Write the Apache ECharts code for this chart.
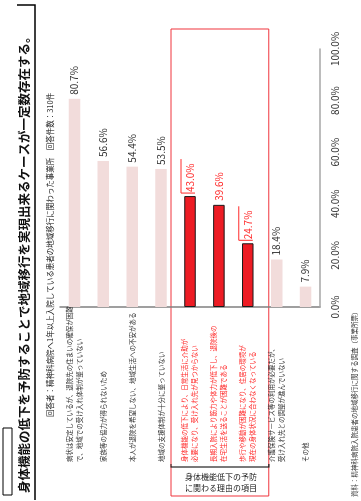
<!DOCTYPE html>
<html>
<head>
<meta charset="utf-8">
<script src="https://cdn.jsdelivr.net/npm/echarts@6/dist/echarts.min.js"></script>
<style>
html,body{margin:0;padding:0;background:#fff;width:361px;height:501px;overflow:hidden;}
#wrap{position:absolute;left:0;top:0;width:501px;height:361px;transform-origin:0 0;transform:translate(0,501px) rotate(-90deg);}
#chart{width:501px;height:361px;}
</style>
</head>
<body>
<div id="wrap"><div id="chart"></div></div>
<script>
const titleText = '身体機能の低下を予防することで地域移行を実現出来るケースが一定数存在する。';
const subtitleText = '回答者：精神科病院へ1年以上入院している患者の地域移行に関わった事業所　回答件数：310件';
const groupLabel = '身体機能低下の予防\nに関わる理由の項目';
const sourceText = '資料：精神科病院入院患者の地域移行に関する調査（事業所票）';
const categories = [
  '病状は安定しているが、退院先の住まいの確保が困難\nで、地域での受け入れ体制が整っていない',
  '家族等の協力が得られないため',
  '本人が退院を希望しない、地域生活への不安がある',
  '地域の支援体制が十分に整っていない',
  '身体機能の低下により、日常生活に介助が\n必要になり、受け入れ先が見つからない',
  '長期入院により筋力や体力が低下し、退院後の\n在宅生活を送ることが困難である',
  '歩行や移動が困難になり、住居の環境が\n現在の身体状況に合わなくなっている',
  '介護保険サービス等の利用が必要だが、\n受け入れ先との調整が進んでいない',
  'その他'
];
const values = [80.7, 56.6, 54.4, 53.5, 43.0, 39.6, 24.7, 18.4, 7.9];
const highlighted = [false, false, false, false, true, true, true, false, false];
const framedLabels = [4, 6];

const FONT = "'Noto Sans CJK JP', 'Noto Sans', sans-serif";
const PINK = '#F2DCDB';
const RED = '#ED1C24';
const RED_TEXT = '#FF2A2A';

const chart = echarts.init(document.getElementById('chart'), null, {renderer: 'canvas'});

const catLabelStyle = {align: 'left', fontSize: 6.5, lineHeight: 10, fontFamily: FONT};

const option = {
  animation: false,
  textStyle: {fontFamily: FONT},
  grid: {left: 194, right: 49, top: 60, bottom: 41, containLabel: false, outerBoundsMode: 'none'},
  xAxis: {
    type: 'value', min: 0, max: 100, interval: 20,
    axisLine: {show: true, lineStyle: {color: '#A6A6A6', width: 1.5}},
    axisTick: {show: false},
    splitLine: {show: false},
    axisLabel: {fontSize: 10, color: '#333', margin: 10, fontFamily: FONT,
      formatter: v => v.toFixed(1) + '%'}
  },
  yAxis: {
    type: 'category', inverse: true,
    data: categories.map((c, i) => ({
      value: c,
      textStyle: Object.assign({color: highlighted[i] ? RED_TEXT : '#333'}, catLabelStyle)
    })),
    axisLine: {show: true, lineStyle: {color: '#7F7F7F', width: 1.5}},
    axisTick: {show: false},
    axisLabel: Object.assign({interval: 0, margin: 155, color: '#333'}, catLabelStyle)
  },
  series: [{
    type: 'bar',
    barWidth: 11.5,
    data: values.map((v, i) => highlighted[i] ? {
      value: v,
      itemStyle: {color: RED, borderColor: '#1a1a1a', borderWidth: 1},
      label: {color: RED_TEXT}
    } : {value: v, itemStyle: {color: PINK}}),
    label: {show: true, position: 'right', distance: 4, fontSize: 10, color: '#333',
      fontFamily: FONT, formatter: p => p.value.toFixed(1) + '%'}
  }]
};
chart.setOption(option);

// annotations derived from the chart's own scales
const p = (v, i) => chart.convertToPixel({gridIndex: 0}, [v, i]);
const first = highlighted.indexOf(true);
const last = highlighted.lastIndexOf(true);
const bandTop = p(0, first)[1] - 19;
const bandBottom = p(0, last)[1] + 21;

const graphics = [
  {type: 'rect', shape: {x: 6, y: 3, width: 67, height: 9}, style: {fill: 'none', stroke: '#000', lineWidth: 1}},
  {type: 'text', x: 8, y: 24, style: {text: titleText, font: 'bold 12.5px ' + FONT, fill: '#111', verticalAlign: 'middle'}},
  {type: 'polyline', shape: {points: [[1, 35], [496, 35], [496, 17]]}, style: {stroke: '#000', lineWidth: 1.5, fill: 'none'}},
  {type: 'text', x: 84, y: 50, style: {text: subtitleText, font: '7.5px ' + FONT, fill: '#222', verticalAlign: 'middle'}},
  {type: 'rect', shape: {x: 5, y: bandTop, width: 467, height: bandBottom - bandTop}, style: {fill: 'none', stroke: '#F0353D', lineWidth: 1}},
  {type: 'polyline', shape: {points: [[37, bandTop], [34, bandTop], [34, bandBottom], [37, bandBottom]]}, style: {stroke: '#222', lineWidth: 1.2, fill: 'none'}},
  {type: 'text', x: 18.5, y: bandTop + 14, rotation: -Math.PI / 2,
    style: {text: groupLabel, font: '8px ' + FONT, fill: '#222', align: 'left', verticalAlign: 'middle', lineHeight: 11}},
  {type: 'text', x: 4, y: 355, style: {text: sourceText, font: '6.5px ' + FONT, fill: '#333', verticalAlign: 'middle'}}
];
framedLabels.forEach(i => {
  const e = p(values[i], i);
  graphics.push({type: 'polyline', shape: {points: [[e[0] + 3, e[1] + 5], [e[0] + 3, e[1] - 9], [e[0] + 37, e[1] - 9]]},
    style: {stroke: RED_TEXT, lineWidth: 1, fill: 'none'}});
});
chart.setOption({graphic: graphics});
</script>
</body>
</html>
